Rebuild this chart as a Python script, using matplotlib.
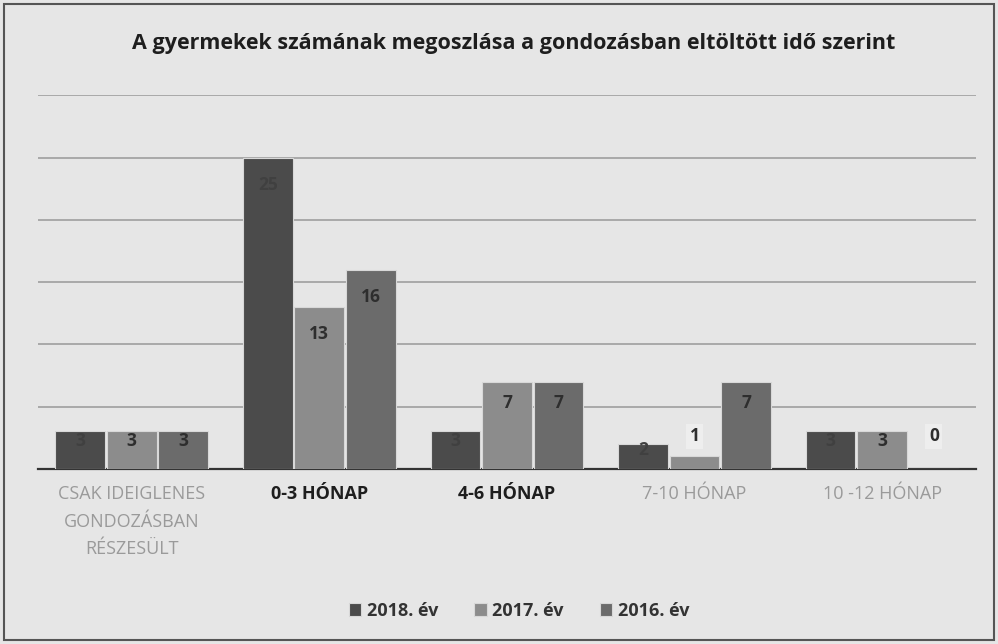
import numpy as np
import matplotlib.pyplot as plt

plt.rcParams['font.family'] = ['Open Sans', 'DejaVu Sans']

# kategóriák és adatsorok
categories = ['CSAK IDEIGLENES\nGONDOZÁSBAN\nRÉSZESÜLT', '0-3 HÓNAP', '4-6 HÓNAP',
              '7-10 HÓNAP', '10 -12 HÓNAP']
series_names = ['2018. év', '2017. év', '2016. év']
v2018 = [3, 25, 3, 2, 3]
v2017 = [3, 13, 7, 1, 3]
v2016 = [3, 16, 7, 7, 0]

colors = ['#4b4b4b', '#8c8c8c', '#6b6b6b']
label_colors = ['#404040', '#2e2e2e', '#2e2e2e']

fig = plt.figure(figsize=(9.98, 6.44), dpi=100)
fig.patch.set_facecolor('#e6e6e6')
ax = fig.add_axes([0.038, 0.272, 0.940, 0.580])
ax.set_facecolor('#e6e6e6')

x = np.arange(len(categories))
w = 0.265
offsets = [-w - 0.01, 0, w + 0.01]
for vals, name, c, lc, off in zip([v2018, v2017, v2016], series_names, colors, label_colors, offsets):
    ax.bar(x + off, vals, width=w, color=c, edgecolor='#d8d8d8', linewidth=0.8,
           label=name, zorder=3)
    for xi, v in zip(x + off, vals):
        if v <= 1:
            ax.text(xi, 2.6, str(v), ha='center', va='center', fontsize=12.5, fontweight='bold',
                    color='#2e2e2e', zorder=4,
                    bbox=dict(boxstyle='square,pad=0.2', fc='#eeeeee', ec='none'))
        else:
            ax.text(xi, v - min(2.2, v * 0.25), str(v), ha='center', va='center',
                    fontsize=12.5, fontweight='bold', color=lc, zorder=4)

ax.set_ylim(0, 30)
ax.set_xlim(-0.5, len(categories) - 0.5)
ax.set_yticks([0, 5, 10, 15, 20, 25, 30])
ax.set_yticklabels([])
ax.tick_params(axis='y', length=0)
ax.tick_params(axis='x', length=0, pad=12)
ax.yaxis.grid(True, color='#a4a4a4', linewidth=1.3, zorder=0)
for s in ['top', 'right', 'left']:
    ax.spines[s].set_visible(False)
ax.spines['bottom'].set_color('#333333')
ax.spines['bottom'].set_linewidth(1.6)

ax.set_xticks(x)
ax.set_xticklabels(categories, fontsize=13, linespacing=1.65, va='top')
tick_styles = [('#9a9a9a', 'normal'), ('#1e1e1e', 'bold'), ('#1e1e1e', 'bold'),
               ('#9a9a9a', 'normal'), ('#9a9a9a', 'normal')]
for lab, (c, fw) in zip(ax.get_xticklabels(), tick_styles):
    lab.set_color(c)
    lab.set_fontweight(fw)

fig.suptitle('A gyermekek számának megoszlása a gondozásban eltöltött idő szerint',
             x=0.515, y=0.948, fontsize=15.5, fontweight='bold', color='#1e1e1e')

leg = fig.legend(loc='center', bbox_to_anchor=(0.52, 0.052), ncol=3, frameon=False,
                 handlelength=0.7, handleheight=0.7, handletextpad=0.3, columnspacing=2.0,
                 prop={'weight': 'bold', 'size': 13})
for t in leg.get_texts():
    t.set_color('#333333')

# keret
fig.patches.append(plt.Rectangle((0.004, 0.006), 0.992, 0.988, transform=fig.transFigure,
                                 fill=False, edgecolor='#555555', linewidth=1.5))

fig.savefig('out.png', dpi=100, facecolor=fig.get_facecolor())
